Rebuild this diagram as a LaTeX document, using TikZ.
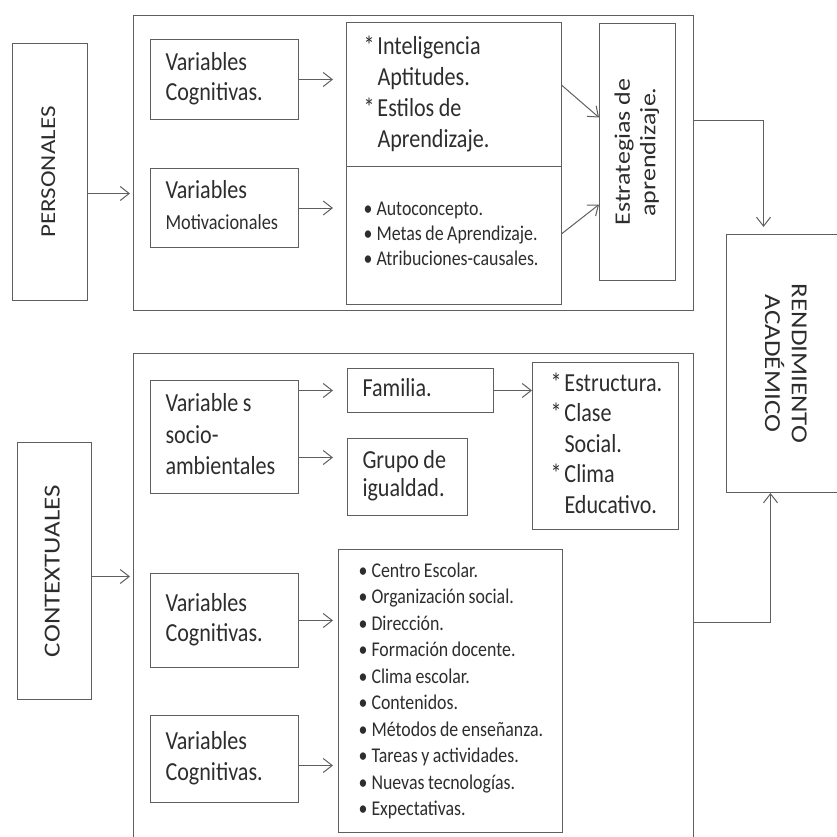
\documentclass[tikz,border=0pt]{standalone}
\usepackage{fontspec}
\usepackage{array}
\setmainfont{Carlito}[FakeStretch=0.85]
\newfontfamily\hdfont{Carlito}
\usetikzlibrary{arrows.meta}
\definecolor{linegray}{RGB}{95,95,95}
\definecolor{textgray}{RGB}{45,45,45}
\newcommand{\boxlines}[1]{\begin{tabular}{@{}>{\spaceskip=0.17em\relax}l@{}}#1\end{tabular}}
\newcommand{\astitem}{\makebox[14pt][l]{*}}
\newcommand{\astgap}{\hspace*{14pt}}
\newcommand{\dotitem}{\makebox[13pt][l]{•}}
\newcommand{\vtext}[2][90]{\rotatebox{#1}{\scalebox{1}[0.85]{\begin{tabular}{@{}c@{}}#2\end{tabular}}}}

\begin{document}
\begin{tikzpicture}[
    x=1pt, y=-1pt,
    box/.style={
        draw=linegray,
        line width=1pt,
        anchor=north west,
        align=left,
        inner xsep=15pt,
        inner ysep=0pt,
        text=textgray,
        font=\fontsize{26}{30.5}\selectfont
    },
    head/.style={
        draw=linegray,
        line width=1pt,
        anchor=north west,
        inner sep=0pt,
        text=textgray,
        font=\hdfont\fontsize{26}{30}\selectfont
    },
    group/.style={draw=linegray, line width=1pt, anchor=north west, inner sep=0pt},
    arr/.style={-{Straight Barb[length=9pt,width=14pt]}, draw=linegray, line width=1pt}
]
\useasboundingbox (0,0) rectangle (836,837);

% personales
\node[group, minimum width=560pt, minimum height=295pt] (persgrp) at (133,15) {};
\node[head, minimum width=75pt, minimum height=257pt, font=\hdfont\fontsize{25}{30}\selectfont] (pers) at (12,43) {\vtext{PERSONALES}};
\node[box, minimum width=148pt, minimum height=80pt, text width=118pt] (cogp) at (150,39) {\boxlines{Variables\\Cognitivas.}};
\node[box, minimum width=148pt, minimum height=79pt, text width=118pt] (motiv) at (150,168) {\boxlines{Variables\\{\fontsize{21.5}{32}\selectfont Motivacionales}}};
\node[box, inner xsep=17pt, minimum width=215pt, minimum height=144pt, text width=181pt, font=\fontsize{26}{31}\selectfont] (intel) at (346,22) {\boxlines{\astitem Inteligencia\\\astgap Aptitudes.\\\astitem Estilos de\\\astgap Aprendizaje.}};
\node[box, inner xsep=17pt, minimum width=215pt, minimum height=138pt, text width=181pt, font=\fontsize{21}{25}\selectfont] (auto) at (346,166) {\boxlines{\dotitem Autoconcepto.\\\dotitem Metas de Aprendizaje.\\\dotitem Atribuciones-causales.}};
\node[head, minimum width=76pt, minimum height=257pt] (estr) at (599,23) {\vtext{Estrategias de\\aprendizaje.}};

% rendimiento
\node[head, minimum width=114pt, minimum height=258pt, font=\hdfont\fontsize{27}{30}\selectfont] (rend) at (726,234) {\vtext[-90]{RENDIMIENTO\\ACADÉMICO}};

% contextuales
\node[group, minimum width=560pt, minimum height=497pt] (ctxgrp) at (133,353) {};
\node[head, minimum width=74pt, minimum height=257pt, font=\hdfont\fontsize{27}{30}\selectfont] (ctx) at (17,442) {\vtext{CONTEXTUALES}};
\node[box, minimum width=148pt, minimum height=113pt, text width=118pt, font=\fontsize{26}{31.5}\selectfont] (socio) at (150,380) {\boxlines{Variable s\\socio-\\ambientales}};
\node[box, minimum width=146pt, minimum height=44pt, text width=116pt] (fam) at (347,368) {\boxlines{Familia.}};
\node[box, minimum width=120pt, minimum height=77pt, text width=90pt, font=\fontsize{26}{28.5}\selectfont] (grupo) at (347,438) {\boxlines{Grupo de\\igualdad.}};
\node[box, inner xsep=18pt, minimum width=146pt, minimum height=167pt, text width=110pt] (estruc) at (532,362) {\boxlines{\astitem Estructura.\\\astitem Clase\\\astgap Social.\\\astitem Clima\\\astgap Educativo.}};
\node[box, minimum width=148pt, minimum height=94pt, text width=118pt] (cogc) at (150,573) {\boxlines{Variables\\Cognitivas.}};
\node[box, minimum width=148pt, minimum height=87pt, text width=118pt] (cogd) at (150,715) {\boxlines{Variables\\Cognitivas.}};
\node[box, inner xsep=20pt, minimum width=224pt, minimum height=283pt, text width=184pt, font=\fontsize{21}{26.5}\selectfont] (escolar) at (338,549) {\boxlines{\dotitem Centro Escolar.\\\dotitem Organización social.\\\dotitem Dirección.\\\dotitem Formación docente.\\\dotitem Clima escolar.\\\dotitem Contenidos.\\\dotitem Métodos de enseñanza.\\\dotitem Tareas y actividades.\\\dotitem Nuevas tecnologías.\\\dotitem Expectativas.}};

% flechas personales
\coordinate (pa) at ([yshift=-21.5pt]pers.east);
\draw[arr, shorten >=3pt] (pa) -- (pa -| persgrp.west);
\draw[arr, shorten >=13pt] (cogp.east) -- (cogp.east -| intel.west);
\draw[arr, shorten >=13pt] (motiv.east) -- (motiv.east -| auto.west);
\draw[arr] ([yshift=9pt]intel.east) -- ([yshift=34.5pt]estr.west);
\draw[arr] ([yshift=2pt]auto.east) -- ([yshift=-52.5pt]estr.west);
\coordinate (pb) at ([yshift=42.5pt]persgrp.east);
\coordinate (rb) at ([xshift=-20pt]rend.north);
\draw[arr, shorten >=7pt] (pb) -| (rb);

% flechas contextuales
\coordinate (ca) at ([yshift=-5.5pt]ctx.east);
\draw[arr, shorten >=3pt] (ca) -- (ca -| ctxgrp.west);
\draw[arr, shorten >=14pt] (socio.east |- fam) -- (fam);
\coordinate (sb) at ([yshift=-20.5pt]socio.east);
\draw[arr, shorten >=14pt] (sb) -- (sb -| grupo.west);
\draw[arr] (fam.east) -- (fam.east -| estruc.west);
\draw[arr, shorten >=5pt] (cogc.east) -- (cogc.east -| escolar.west);
\coordinate (db) at ([yshift=-6.5pt]cogd.east);
\draw[arr, shorten >=5pt] (db) -- (db -| escolar.west);
\coordinate (cb) at ([yshift=-20.5pt]ctxgrp.east);
\coordinate (rc) at ([xshift=-13pt]rend.south);
\draw[arr] (cb) -| (rc);

\end{tikzpicture}
\end{document}
